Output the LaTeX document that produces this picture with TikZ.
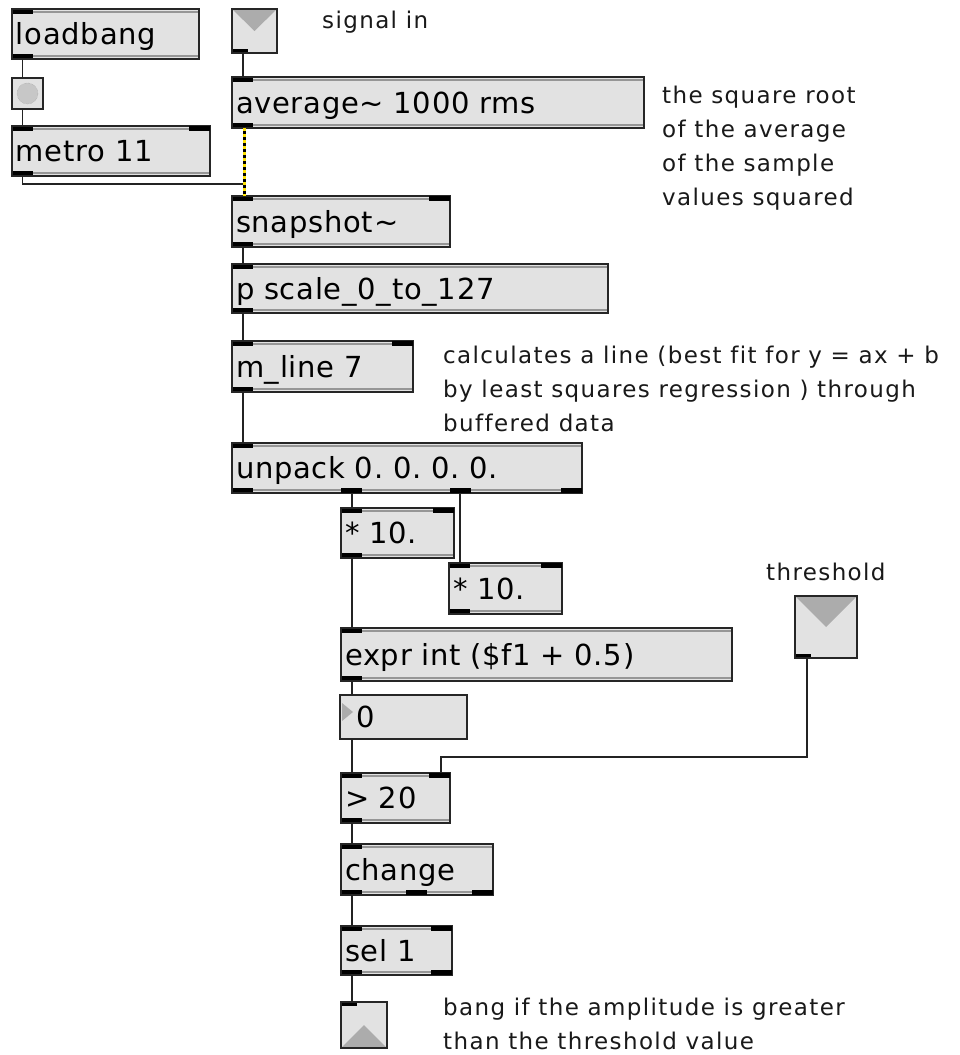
\documentclass[tikz,border=0pt]{standalone}
\usepackage{fontspec}
\setmainfont{DejaVu Sans}
\newfontfamily\objfamily[LetterSpace=2.5,Ligatures=NoCommon]{DejaVu Sans}
\newfontfamily\cmtfamily[LetterSpace=6,Ligatures=NoCommon]{DejaVu Sans}
\frenchspacing
\definecolor{boxfill}{RGB}{226,226,226}
\definecolor{wire}{RGB}{35,35,35}
\definecolor{bargray}{RGB}{150,150,150}
\definecolor{trigray}{RGB}{172,172,172}

\begin{document}
\begin{tikzpicture}[x=1pt,y=-1pt,
  obj/.style={draw=black!85, line width=1.3pt, fill=boxfill, anchor=north west, outer sep=0pt,
    inner xsep=4pt, inner ysep=10pt, text height=25pt, text depth=4pt, minimum height=50pt,
    align=left, font=\objfamily\fontsize{29}{34}\selectfont,
    path picture={
      \draw[bargray, line width=1.4pt] ([yshift=-3pt]path picture bounding box.north west) -- ([yshift=-3pt]path picture bounding box.north east);
      \draw[bargray, line width=1.4pt] ([yshift=3pt]path picture bounding box.south west) -- ([yshift=3pt]path picture bounding box.south east);
      \fill[black] (path picture bounding box.north west) rectangle ++(21,5);
      \fill[black] (path picture bounding box.south west) rectangle ++(21,-5);
    }},
  inbox/.style={draw=black!85, line width=1.3pt, fill=boxfill, anchor=north west, outer sep=0pt, inner sep=0pt,
    path picture={
      \fill[trigray] (path picture bounding box.north west) -- (path picture bounding box.north east) -- (path picture bounding box.center) -- cycle;
      \fill[black] (path picture bounding box.south west) rectangle ++(16,-4);
    }},
  outbox/.style={draw=black!85, line width=1.3pt, fill=boxfill, anchor=north west, outer sep=0pt, inner sep=0pt,
    path picture={
      \fill[trigray] (path picture bounding box.south west) -- (path picture bounding box.south east) -- (path picture bounding box.center) -- cycle;
      \fill[black] (path picture bounding box.north west) rectangle ++(16,4);
    }},
  numbox/.style={draw=black!85, line width=1.3pt, fill=boxfill, anchor=north west, outer sep=0pt,
    inner xsep=16pt, inner ysep=7.5pt, text height=25pt, text depth=4pt, align=left,
    font=\objfamily\fontsize{29}{34}\selectfont,
    path picture={
      \fill[trigray] ([shift={(2pt,-8pt)}]path picture bounding box.north west) -- ++(11,9) -- ++(-11,9) -- cycle;
    }},
  cable/.style={draw=wire, line width=1.5pt},
  sigline/.style={draw=black, line width=3pt, postaction={draw=yellow!85!orange, line width=3pt, dash pattern=on 3pt off 3pt}},
  cmt/.style={inner sep=0pt, align=left, text=black!90, font=\cmtfamily\fontsize{23}{34}\selectfont}]

  \fill[white] (0,0) rectangle (960,1055);
  \useasboundingbox (0,0) rectangle (960,1055);

  \node[obj, text width=179pt] (loadbang) at (12,9) {loadbang};
  \node[draw=black!85, line width=1.3pt, fill=boxfill, anchor=north west, outer sep=0pt, minimum size=31pt, inner sep=0pt] (loadbtn) at (12,78) {};
  \fill[black!22, draw=black!40, densely dotted] (loadbtn.center) circle[radius=10.5pt];
  \node[obj, text width=190pt] (metro) at (12,126) {metro 11};
  \fill[black] (metro.north east) rectangle ++(-21,5);

  \node[inbox, minimum width=45pt, minimum height=44pt] (sigin) at (232,9) {};
  \node[obj, text width=404pt, minimum height=51pt] (avg) at (232,77) {average\~{} 1000 rms};
  \node[obj, text width=210pt, minimum height=51pt] (snap) at (232,196) {snapshot\~{}};
  \fill[black] (snap.north east) rectangle ++(-21,5);
  \node[obj, text width=368pt, minimum height=49pt] (pscale) at (232,264) {p scale\_0\_to\_127};
  \node[obj, text width=173pt, minimum height=51pt] (mline) at (232,341) {m\_line 7};
  \fill[black] (mline.north east) rectangle ++(-21,5);
  \node[obj, text width=342pt] (unpack) at (232,443) {unpack 0. 0. 0. 0.};
  \fill[black] ([xshift=109pt]unpack.south west) rectangle ++(21,-5);
  \fill[black] ([xshift=218pt]unpack.south west) rectangle ++(21,-5);
  \fill[black] (unpack.south east) rectangle ++(-21,-5);

  \node[obj, text width=105pt] (mula) at (341,508) {* 10.};
  \fill[black] (mula.north east) rectangle ++(-21,5);
  \node[obj, text width=105pt, minimum height=51pt] (mulb) at (449,563) {* 10.};
  \fill[black] (mulb.north east) rectangle ++(-21,5);
  \node[obj, text width=383pt, minimum height=53pt] (expr) at (341,628) {expr int (\$f1 + 0.5)};
  \node[numbox, text width=95pt] (num) at (340,695) {0};
  \node[obj, text width=101pt] (gt) at (341,773) {> 20};
  \fill[black] (gt.north east) rectangle ++(-21,5);
  \node[obj, text width=144pt, minimum height=51pt] (change) at (341,844) {change};
  \fill[black] ([xshift=65pt]change.south west) rectangle ++(21,-5);
  \fill[black] (change.south east) rectangle ++(-21,-5);
  \node[obj, text width=103pt, minimum height=49pt] (sel) at (341,926) {sel 1};
  \fill[black] (sel.north east) rectangle ++(-21,5);
  \fill[black] (sel.south east) rectangle ++(-21,-5);
  \node[outbox, minimum width=46pt, minimum height=46pt] (bangout) at (341,1002) {};

  \node[inbox, minimum width=62pt, minimum height=62pt] (thresh) at (795,596) {};

  \draw[cable] ([xshift=10.5pt]loadbang.south west) -- ([xshift=10.5pt]loadbtn.north west);
  \draw[cable] ([xshift=10.5pt]loadbtn.south west) -- ([xshift=10.5pt]metro.north west);
  \draw[cable] ([xshift=10.5pt]metro.south west) -- ++(0,8) -| ([xshift=12pt]snap.north west);
  \draw[cable] ([xshift=11pt]sigin.south west) -- ([xshift=11pt]avg.north west);
  \draw[sigline] ([xshift=12pt]avg.south west) -- ([xshift=12pt]snap.north west);
  \draw[cable] ([xshift=11pt]snap.south west) -- ([xshift=11pt]pscale.north west);
  \draw[cable] ([xshift=11pt]pscale.south west) -- ([xshift=11pt]mline.north west);
  \draw[cable] ([xshift=11pt]mline.south west) -- ([xshift=11pt]unpack.north west);
  \draw[cable] ([xshift=120pt]unpack.south west) -- ([xshift=11pt]mula.north west);
  \draw[cable] ([xshift=228pt]unpack.south west) -- ([xshift=11pt]mulb.north west);
  \draw[cable] ([xshift=11pt]mula.south west) -- ([xshift=11pt]expr.north west);
  \draw[cable] ([xshift=11pt]expr.south west) -- ([xshift=12pt]num.north west);
  \draw[cable] ([xshift=12pt]num.south west) -- ([xshift=11pt]gt.north west);
  \draw[cable] ([xshift=12pt]thresh.south west) -- ++(0,99) -| ([xshift=-9pt]gt.north east);
  \draw[cable] ([xshift=11pt]gt.south west) -- ([xshift=11pt]change.north west);
  \draw[cable] ([xshift=11pt]change.south west) -- ([xshift=11pt]sel.north west);
  \draw[cable] ([xshift=11pt]sel.south west) -- ([xshift=11pt]bangout.north west);

  \node[cmt, anchor=base west] (sigcmt) at (322,28) {signal in};
  \node[cmt, anchor=base west] (rmscmt) at (662,205) {the square root\\of the average\\of the sample\\values squared};
  \node[cmt, anchor=base west] (linecmt) at (443,431) {calculates a line (best fit for y = ax + b\\by least squares regression ) through\\buffered data};
  \node[cmt, anchor=base west] (threshcmt) at (766,580) {threshold};
  \node[cmt, anchor=base west] (bangcmt) at (443,1049) {bang if the amplitude is greater\\than the threshold value};
\end{tikzpicture}
\end{document}
